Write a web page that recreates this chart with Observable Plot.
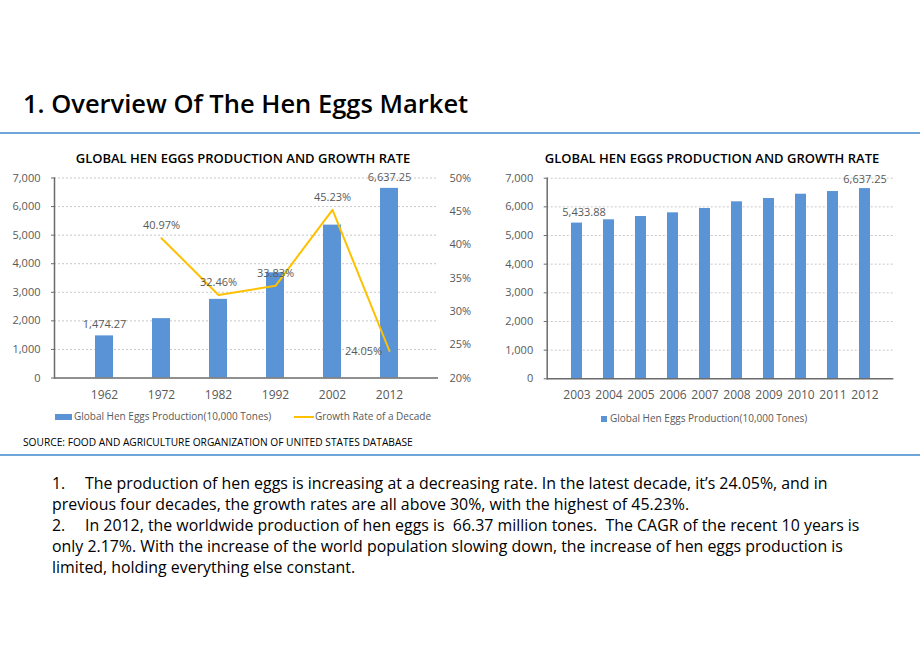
<!DOCTYPE html>
<html><head><meta charset="utf-8">
<script src="https://cdn.jsdelivr.net/npm/d3@7"></script>
<script src="https://cdn.jsdelivr.net/npm/@observablehq/plot@0.6"></script>
<style>
body{margin:0;background:#fff;}
#page{position:relative;width:920px;height:651px;overflow:hidden;font-family:"Open Sans",sans-serif;background:#fff;color:#000;}
.abs{position:absolute;white-space:nowrap;}
#title{left:23px;top:86px;font-size:25.5px;font-weight:600;}
.hr{left:0;width:920px;height:2px;background:#6ea6dc;}
.ctitle{font-size:13px;font-weight:600;transform:translateX(-50%);top:149px;}
.leg{font-size:10px;color:#595959;}
#source{left:23px;top:435px;font-size:10.2px;}
#body{left:52px;top:473px;font-size:15.9px;line-height:21px;color:#000;}
.num{display:inline-block;width:33px;}
</style></head>
<body><div id="page">
<div id="title" class="abs">1. Overview Of The Hen Eggs Market</div>
<div class="abs hr" style="top:132px"></div>
<div class="abs ctitle" style="left:243px">GLOBAL HEN EGGS PRODUCTION AND GROWTH RATE</div>
<div class="abs ctitle" style="left:712px">GLOBAL HEN EGGS PRODUCTION AND GROWTH RATE</div>
<div id="chart1" class="abs" style="left:0;top:140px"></div>
<div id="chart2" class="abs" style="left:480px;top:140px"></div>
<div class="abs" style="left:55px;top:414px;width:17px;height:6px;background:#5a93d6"></div>
<div class="abs leg" style="left:74px;top:409px">Global Hen Eggs Production(10,000 Tones)</div>
<div class="abs" style="left:294px;top:416px;width:20px;height:2px;background:#ffc000"></div>
<div class="abs leg" style="left:315px;top:409px">Growth Rate of a Decade</div>
<div class="abs" style="left:601px;top:416px;width:6px;height:6px;background:#5a93d6"></div>
<div class="abs leg" style="left:610px;top:411px">Global Hen Eggs Production(10,000 Tones)</div>
<div id="source" class="abs">SOURCE: FOOD AND AGRICULTURE ORGANIZATION OF UNITED STATES DATABASE</div>
<div class="abs hr" style="top:454px"></div>
<div id="body" class="abs"><span class="num">1.</span>The production of hen eggs is increasing at a decreasing rate. In the latest decade, it’s 24.05%, and in<br>previous four decades, the growth rates are all above 30%, with the highest of 45.23%.<br><span class="num">2.</span>In 2012, the worldwide production of hen eggs is &nbsp;66.37 million tones. &nbsp;The CAGR of the recent 10 years is<br>only 2.17%. With the increase of the world population slowing down, the increase of hen eggs production is<br>limited, holding everything else constant.</div>
</div>
<script>
const decades = ["1962","1972","1982","1992","2002","2012"];
const decadeProduction = [1474.27, 2078, 2753, 3684, 5351, 6637.25];
const rateYears = ["1972","1982","1992","2002","2012"];
const growthRates = [40.97, 32.46, 33.83, 45.23, 24.05];
const years = ["2003","2004","2005","2006","2007","2008","2009","2010","2011","2012"];
const yearProduction = [5433.88, 5548, 5663, 5792, 5942, 6176, 6291, 6441, 6535, 6637.25];
const prodTicks = [0,1000,2000,3000,4000,5000,6000,7000];
const rateTicks = [20,25,30,35,40,45,50];

const BLUE = "#5a93d6", GOLD = "#ffc000", GRAY = "#595959", AXIS = "#6b6b6b";
const fmt = d3.format(",.2f");
const yMax = 7000, rMin = 20, rMax = 50;
const toY = r => (r - rMin) / (rMax - rMin) * yMax;

const dec = decades.map((x, i) => ({x, v: decadeProduction[i]}));
const rates = rateYears.map((x, i) => ({x, r: growthRates[i], y: toY(growthRates[i])}));
const yr = years.map((x, i) => ({x, v: yearProduction[i]}));

const style = {fontFamily: "'Open Sans', sans-serif", fontSize: "11px", color: GRAY, background: "transparent", overflow: "visible"};

const c1 = Plot.plot({
  width: 480, height: 270,
  marginTop: 37.5, marginBottom: 32.5, marginLeft: 54, marginRight: 42,
  style,
  x: {domain: decades, padding: 0.69, align: 0.5, label: null},
  y: {domain: [0, yMax], label: null},
  marks: [
    Plot.gridY(prodTicks.slice(1), {stroke: "#c8c8c8", strokeOpacity: 1, strokeDasharray: "2,2"}),
    Plot.barY(dec, {x: "x", y: "v", fill: BLUE}),
    Plot.ruleY([0], {stroke: AXIS, strokeWidth: 1.5}),
    Plot.frame({anchor: "left", stroke: AXIS, strokeWidth: 1.5}),
    Plot.axisY(prodTicks, {anchor: "left", label: null, tickSize: 3, tickPadding: 11, fontSize: 11, tickFormat: d3.format(","), stroke: AXIS}),
    Plot.axisY(rateTicks.map(toY), {anchor: "right", label: null, tickSize: 0, tickPadding: 11, fontSize: 11, tickFormat: v => Math.round(v / yMax * (rMax - rMin) + rMin) + "%"}),
    Plot.axisX({label: null, tickSize: 0, tickPadding: 12, fontSize: 12}),
    Plot.line(rates, {x: "x", y: "y", stroke: GOLD, strokeWidth: 2}),
    Plot.text([dec[0], dec[dec.length - 1]], {x: "x", y: "v", text: d => fmt(d.v), dy: -11, fill: GRAY, fontSize: 11}),
    Plot.text(rates.slice(0, -1), {x: "x", y: "y", text: d => d.r.toFixed(2) + "%", dy: -12.5, fill: GRAY, fontSize: 11}),
    Plot.text(rates.slice(-1), {x: "x", y: "y", text: d => d.r.toFixed(2) + "%", dx: -26, fill: GRAY, fontSize: 11})
  ]
});
document.getElementById("chart1").append(c1);

const c2 = Plot.plot({
  width: 440, height: 270,
  marginTop: 37.7, marginBottom: 31.7, marginLeft: 66.7, marginRight: 26.7,
  style,
  x: {domain: years, padding: 0.67, align: 0.5, label: null},
  y: {domain: [0, yMax], label: null},
  marks: [
    Plot.gridY(prodTicks.slice(1), {stroke: "#c8c8c8", strokeOpacity: 1, strokeDasharray: "2,2"}),
    Plot.barY(yr, {x: "x", y: "v", fill: BLUE}),
    Plot.ruleY([0], {stroke: AXIS, strokeWidth: 1.5}),
    Plot.frame({anchor: "left", stroke: AXIS, strokeWidth: 1.5}),
    Plot.axisY(prodTicks, {anchor: "left", label: null, tickSize: 3, tickPadding: 11, fontSize: 11, tickFormat: d3.format(","), stroke: AXIS}),
    Plot.axisX({label: null, tickSize: 0, tickPadding: 12, fontSize: 12}),
    Plot.text([yr[0]], {x: "x", y: "v", text: d => fmt(d.v), dy: -11, dx: 7, fill: GRAY, fontSize: 11}),
    Plot.text([yr[yr.length - 1]], {x: "x", y: "v", text: d => fmt(d.v), dy: -9, fill: GRAY, fontSize: 11})
  ]
});
document.getElementById("chart2").append(c2);
</script>
</body></html>
